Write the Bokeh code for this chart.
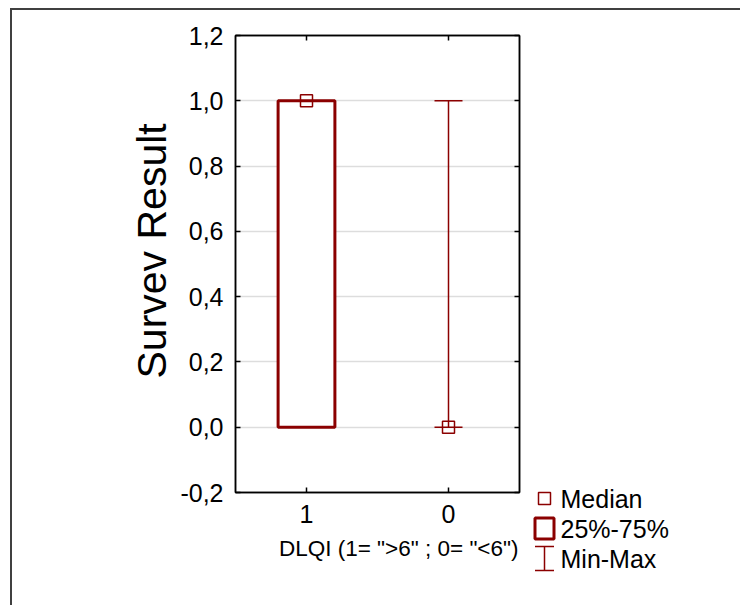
from bokeh.plotting import figure
from bokeh.models import (FactorRange, Range1d, FixedTicker, LinearAxis,
                          CategoricalAxis, Title, ColumnDataSource)
from bokeh.embed import file_html
from bokeh.resources import INLINE

# ---------------- data ----------------
categories = ["1", "0"]
medians = [1.0, 0.0]
q1 = [0.0, 0.0]
q3 = [1.0, 0.0]
mins = [0.0, 0.0]
maxs = [1.0, 1.0]
y_ticks = [-0.2, 0.0, 0.2, 0.4, 0.6, 0.8, 1.0, 1.2]
y_tick_labels = ["-0,2", "0,0", "0,2", "0,4", "0,6", "0,8", "1,0", "1,2"]
x_label = 'DLQI (1= ">6" ; 0= "<6")'
y_label = "Survev Result"
legend_labels = ["Median", "25%-75%", "Min-Max"]

DARKRED = "#8B0000"
FONT = "Liberation Sans"

# ---------------- main chart ----------------
p = figure(x_range=FactorRange(factors=categories), y_range=Range1d(-0.2, 1.2),
           width=730, height=597, output_backend="svg", toolbar_location=None,
           min_border_left=223, min_border_right=223, min_border_top=25,
           min_border_bottom=115)
p.styles = {"margin-left": "10px", "margin-top": "8px",
            "border-top": "2px solid #404040",
            "border-left": "2px solid #404040"}
p.background_fill_color = "white"
p.border_fill_color = "white"
p.outline_line_color = "black"
p.outline_line_width = 1.5

src = ColumnDataSource(dict(cat=categories, med=medians, lo=mins, hi=maxs))
box_idx = [i for i in range(len(categories)) if q3[i] > q1[i]]
box_src = ColumnDataSource(dict(cat=[categories[i] for i in box_idx],
                                q1=[q1[i] for i in box_idx],
                                q3=[q3[i] for i in box_idx]))

p.segment(x0="cat", y0="lo", x1="cat", y1="hi", source=src,
          line_color=DARKRED, line_width=1.5)
p.scatter(x="cat", y="lo", source=src, marker="dash", size=28,
          line_color=DARKRED, line_width=1.5)
p.scatter(x="cat", y="hi", source=src, marker="dash", size=28,
          line_color=DARKRED, line_width=1.5)
p.vbar(x="cat", bottom="q1", top="q3", width=0.4, source=box_src,
       fill_color="white", line_color=DARKRED, line_width=3)
p.scatter(x="cat", y="med", source=src, marker="square", size=12,
          fill_color=None, line_color=DARKRED, line_width=1.5)

yt = FixedTicker(ticks=y_ticks)
p.yaxis.ticker = yt
p.yaxis.major_label_overrides = dict(zip(y_ticks, y_tick_labels))
p.ygrid.ticker = yt
p.ygrid.grid_line_color = "#dddddd"
p.ygrid.grid_line_width = 1.5
p.xgrid.visible = False

def style_axis(ax, show_labels=True):
    ax.major_tick_in = 5
    ax.major_tick_out = 0
    ax.minor_tick_in = 0
    ax.minor_tick_out = 0
    ax.axis_line_color = "black"
    ax.axis_line_width = 1.5
    ax.major_tick_line_color = "black"
    ax.major_tick_line_width = 1.5
    ax.major_label_text_font = FONT
    ax.major_label_text_color = "black"
    if show_labels:
        ax.major_label_text_font_size = "25px"
        ax.major_label_standoff = 12
    else:
        ax.major_label_text_font_size = "0px"
        ax.major_label_text_color = None
        ax.major_label_standoff = 0

style_axis(p.yaxis[0])
style_axis(p.xaxis[0])

ra = LinearAxis(ticker=FixedTicker(ticks=y_ticks))
style_axis(ra, show_labels=False)
p.add_layout(ra, "right")
ta = CategoricalAxis()
style_axis(ta, show_labels=False)
p.add_layout(ta, "above")

p.add_layout(Title(text=x_label, align="right", offset=-3, standoff=8,
                   padding=4,
                   text_font=FONT, text_font_size="22.5px",
                   text_font_style="normal", text_color="black"), "below")
p.add_layout(Title(text=y_label, align="left", offset=114, standoff=6,
                   text_font=FONT, text_font_size="41px",
                   text_font_style="normal", text_color="black"), "left")

# ---------------- legend (separate root, placed absolutely) ----------------
n = len(legend_labels)
leg_y = list(range(n))[::-1]
leg = figure(x_range=Range1d(-1, 1), y_range=Range1d(-0.5, n - 0.5),
             width=164, height=100, output_backend="svg", toolbar_location=None,
             x_axis_location=None, y_axis_location=None,
             min_border_left=0, min_border_right=140, min_border_top=5,
             min_border_bottom=5)
leg.styles = {"position": "absolute", "left": "532px", "top": "478px"}
leg.outline_line_color = None
leg.background_fill_color = None
leg.border_fill_color = None
leg.grid.visible = False

leg.scatter(x=[0], y=[leg_y[0]], marker="square", size=12,
            fill_color=None, line_color=DARKRED, line_width=1.5)
leg.rect(x=[0], y=[leg_y[1]], width=19, height=21, width_units="screen",
         height_units="screen", fill_color="white", line_color=DARKRED,
         line_width=3)
wy = leg_y[2]
leg.segment(x0=[0], y0=[wy - 0.4], x1=[0], y1=[wy + 0.4],
            line_color=DARKRED, line_width=1.5)
leg.scatter(x=[0, 0], y=[wy - 0.4, wy + 0.4], marker="dash", size=19,
            line_color=DARKRED, line_width=1.5)

la = LinearAxis(ticker=FixedTicker(ticks=leg_y),
                major_label_overrides=dict(zip(leg_y, legend_labels)))
la.axis_line_color = None
la.major_tick_line_color = None
la.minor_tick_line_color = None
la.major_tick_in = 0
la.major_tick_out = 0
la.minor_tick_in = 0
la.minor_tick_out = 0
la.major_label_standoff = 4
la.major_label_text_font = FONT
la.major_label_text_font_size = "25px"
la.major_label_text_color = "black"
leg.add_layout(la, "right")

open("out.html", "w").write(file_html([p, leg], INLINE))
